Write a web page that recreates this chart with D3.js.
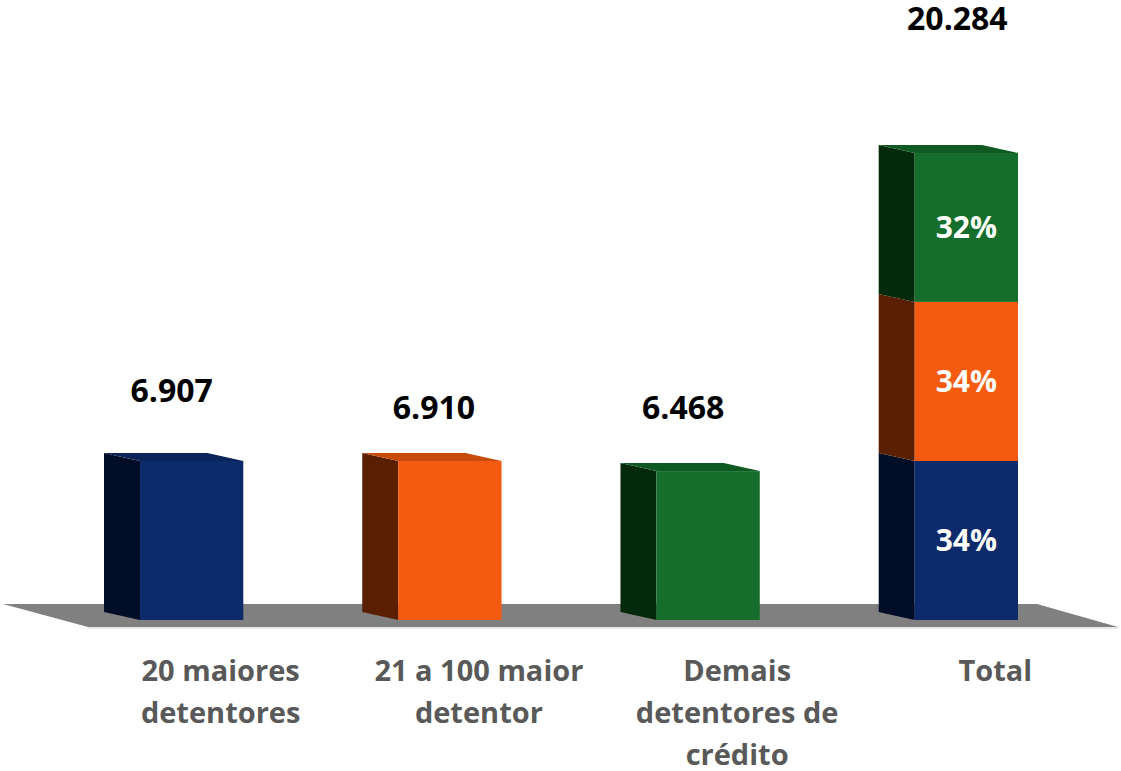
<!DOCTYPE html>
<html>
<head>
<meta charset="utf-8">
<script src="https://cdn.jsdelivr.net/npm/d3@7"></script>
<style>
  body { margin: 0; background: #fff; }
  text { font-family: "Open Sans", "Noto Sans", sans-serif; font-weight: bold; }
</style>
</head>
<body>
<svg id="chart" width="1121" height="771"></svg>
<script>
// Chart data
const categories = ["20 maiores detentores", "21 a 100 maior detentor", "Demais detentores de crédito", "Total"];
const categoryLines = [["20 maiores", "detentores"], ["21 a 100 maior", "detentor"], ["Demais", "detentores de", "crédito"], ["Total"]];
const groupValues = [6907, 6910, 6468];
const valueLabels = ["6.907", "6.910", "6.468", "20.284"];
const shareLabels = ["34%", "34%", "32%"];

// Colours per group: front, side, top
const front = ["#0d2b6b", "#f45a10", "#166e2d"];
const side = ["#000d26", "#5a1e00", "#032a0b"];
const topc = ["#0a2459", "#c94b0c", "#0f5a23"];

// Layout
const depth = {dx: -36, dy: -8};
const labelLift = [59, 42, 52, 123];
const labelShift = [-2, 2, -7, 9];
const svg = d3.select('#chart');

const total = d3.sum(groupValues);
const x = d3.scaleBand().domain(categories).range([140, 1018]).paddingInner(0.6).paddingOuter(0);
const y = d3.scaleLinear().domain([0, total]).range([620, 153]);

// Segments: one per single bar, three stacked in the "Total" bar
let acc = 0;
const segments = groupValues.map((v, i) => ({cat: categories[i], i, y0: 0, y1: v}))
  .concat(groupValues.map((v, i) => {
    const s = {cat: categories[3], i, y0: acc, y1: acc + v, share: shareLabels[i]};
    acc += v;
    return s;
  }));

// Floor
const base = y(0);
svg.append('polygon')
  .attr('points', [[3, base - 16], [1037, base - 16], [1118, base + 7], [88, base + 7]].join(' '))
  .attr('fill', '#808080');
svg.append('line')
  .attr('x1', 88).attr('x2', 1118).attr('y1', base + 8).attr('y2', base + 8)
  .attr('stroke', '#d0d0d0').attr('stroke-width', 1);

// Bars
const g = svg.append('g');
segments.forEach(s => {
  const x0 = x(s.cat), x1 = x0 + x.bandwidth();
  const yt = y(s.y1), yb = y(s.y0);
  // left face
  g.append('polygon')
    .attr('points', [[x0, yt], [x0 + depth.dx, yt + depth.dy], [x0 + depth.dx, yb + depth.dy], [x0, yb]].join(' '))
    .attr('fill', side[s.i]);
  // front face
  g.append('rect')
    .attr('x', x0).attr('y', yt).attr('width', x1 - x0).attr('height', yb - yt)
    .attr('fill', front[s.i]);
});

// Top faces (only the top segment of each bar)
categories.forEach((c, k) => {
  const top = k < 3 ? {i: k, v: groupValues[k]} : {i: 2, v: total};
  const x0 = x(c), x1 = x0 + x.bandwidth(), yt = y(top.v);
  g.append('polygon')
    .attr('points', [[x0, yt], [x0 + depth.dx, yt + depth.dy], [x1 + depth.dx, yt + depth.dy], [x1, yt]].join(' '))
    .attr('fill', topc[top.i]);
});

// Share labels inside the Total bar
segments.filter(s => s.share).forEach(s => {
  svg.append('text')
    .attr('x', x(s.cat) + x.bandwidth() / 2)
    .attr('y', (y(s.y0) + y(s.y1)) / 2 + 11)
    .attr('text-anchor', 'middle')
    .attr('font-size', 30)
    .attr('fill', '#fff')
    .text(s.share);
});

// Value labels above bars
categories.forEach((c, k) => {
  const v = k < 3 ? groupValues[k] : total;
  svg.append('text')
    .attr('x', x(c) + (x.bandwidth() + depth.dx) / 2 + labelShift[k])
    .attr('y', y(v) - labelLift[k])
    .attr('text-anchor', 'middle')
    .attr('font-size', 32)
    .attr('fill', '#000')
    .text(valueLabels[k]);
});

// Category labels
categories.forEach((c, k) => {
  const cx = x(c) + x.bandwidth() / 2 + 29;
  const t = svg.append('text')
    .attr('x', cx)
    .attr('y', 681)
    .attr('text-anchor', 'middle')
    .attr('font-size', 29)
    .attr('fill', '#595959');
  categoryLines[k].forEach((line, j) => {
    t.append('tspan').attr('x', cx).attr('dy', j === 0 ? 0 : 42).text(line);
  });
});
</script>
</body>
</html>
